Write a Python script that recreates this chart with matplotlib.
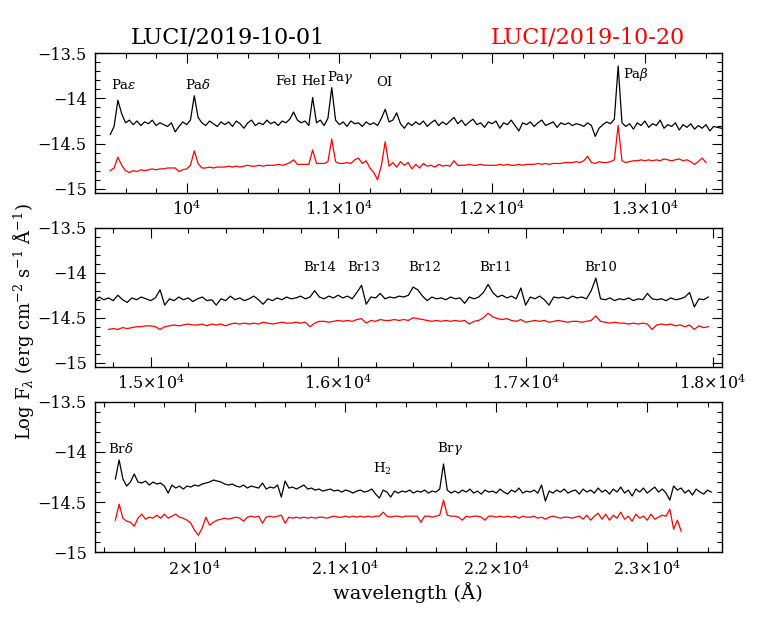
import matplotlib
matplotlib.use("Agg")
import matplotlib.pyplot as plt
import numpy as np
from matplotlib.ticker import MultipleLocator, FixedLocator, FuncFormatter

plt.rcParams["font.family"] = ["DejaVu Serif"]
plt.rcParams["mathtext.fontset"] = "dejavuserif"

# --------------------------------------------------------------------------- #
# data (log flux, 25 A grid)                               #
# --------------------------------------------------------------------------- #

wl_j_black = np.arange(9500, 13501, 25)
flux_j_black = [
    -14.40, -14.31, -14.02, -14.17, -14.27, -14.24, -14.29, -14.25, -14.30, -14.26,
    -14.28, -14.24, -14.30, -14.27, -14.29, -14.31, -14.27, -14.37, -14.31, -14.26,
    -14.29, -14.24, -13.97, -14.21, -14.27, -14.30, -14.25, -14.28, -14.31, -14.26,
    -14.29, -14.26, -14.31, -14.25, -14.28, -14.33, -14.27, -14.24, -14.30, -14.27,
    -14.29, -14.24, -14.28, -14.26, -14.30, -14.25, -14.27, -14.23, -14.15, -14.24,
    -14.27, -14.25, -14.30, -13.99, -14.27, -14.24, -14.30, -14.22, -13.88, -14.24,
    -14.29, -14.26, -14.31, -14.25, -14.28, -14.27, -14.31, -14.26, -14.29, -14.27,
    -14.30, -14.22, -14.12, -14.26, -14.24, -14.16, -14.28, -14.33, -14.27, -14.30,
    -14.26, -14.29, -14.25, -14.31, -14.27, -14.24, -14.30, -14.26, -14.29, -14.25,
    -14.21, -14.28, -14.24, -14.30, -14.26, -14.23, -14.29, -14.27, -14.32, -14.26,
    -14.28, -14.25, -14.33, -14.27, -14.29, -14.24, -14.30, -14.36, -14.27, -14.29,
    -14.26, -14.31, -14.27, -14.24, -14.30, -14.28, -14.26, -14.32, -14.27, -14.29,
    -14.27, -14.30, -14.28, -14.29, -14.31, -14.27, -14.30, -14.42, -14.33, -14.29,
    -14.26, -14.28, -14.23, -13.64, -14.27, -14.31, -14.28, -14.34, -14.27, -14.30,
    -14.25, -14.32, -14.28, -14.30, -14.24, -14.33, -14.29, -14.31, -14.27, -14.35,
    -14.29, -14.32, -14.28, -14.34, -14.30, -14.33, -14.29, -14.36, -14.31, -14.32,
    -14.33,
]

wl_j_red = np.arange(9500, 13401, 25)
flux_j_red = [
    -14.80, -14.77, -14.65, -14.74, -14.80, -14.82, -14.80, -14.81, -14.79, -14.80,
    -14.79, -14.78, -14.79, -14.78, -14.78, -14.77, -14.77, -14.77, -14.81, -14.79,
    -14.78, -14.74, -14.58, -14.72, -14.77, -14.77, -14.76, -14.77, -14.76, -14.76,
    -14.76, -14.75, -14.76, -14.75, -14.76, -14.75, -14.74, -14.75, -14.75, -14.74,
    -14.75, -14.74, -14.74, -14.74, -14.73, -14.74, -14.73, -14.71, -14.68, -14.73,
    -14.73, -14.73, -14.73, -14.57, -14.72, -14.72, -14.72, -14.70, -14.45, -14.70,
    -14.72, -14.72, -14.71, -14.72, -14.68, -14.66, -14.72, -14.69, -14.77, -14.82,
    -14.90, -14.74, -14.48, -14.75, -14.71, -14.76, -14.70, -14.74, -14.71, -14.78,
    -14.73, -14.77, -14.72, -14.75, -14.74, -14.76, -14.73, -14.75, -14.74, -14.75,
    -14.69, -14.74, -14.74, -14.74, -14.73, -14.74, -14.74, -14.73, -14.74, -14.74,
    -14.74, -14.74, -14.73, -14.74, -14.73, -14.74, -14.74, -14.73, -14.74, -14.73,
    -14.73, -14.73, -14.72, -14.73, -14.72, -14.73, -14.72, -14.72, -14.72, -14.71,
    -14.71, -14.71, -14.70, -14.71, -14.69, -14.64, -14.71, -14.72, -14.70, -14.71,
    -14.71, -14.70, -14.68, -14.30, -14.69, -14.71, -14.70, -14.69, -14.69, -14.68,
    -14.69, -14.68, -14.69, -14.68, -14.69, -14.67, -14.68, -14.69, -14.68, -14.67,
    -14.69, -14.68, -14.70, -14.73, -14.70, -14.66, -14.71,
]

wl_h_black = np.arange(14700, 17976, 25)
flux_h_black = [
    -14.32, -14.27, -14.30, -14.28, -14.31, -14.25, -14.30, -14.33, -14.28, -14.30,
    -14.27, -14.29, -14.31, -14.28, -14.19, -14.36, -14.29, -14.31, -14.27, -14.30,
    -14.28, -14.32, -14.29, -14.27, -14.31, -14.30, -14.36, -14.29, -14.31, -14.26,
    -14.30, -14.28, -14.31, -14.29, -14.26, -14.30, -14.35, -14.29, -14.31, -14.28,
    -14.30, -14.27, -14.29, -14.28, -14.26, -14.29, -14.27, -14.20, -14.27, -14.29,
    -14.26, -14.28, -14.25, -14.28, -14.26, -14.29, -14.22, -14.14, -14.35, -14.27,
    -14.28, -14.23, -14.29, -14.27, -14.28, -14.26, -14.27, -14.25, -14.16, -14.19,
    -14.26, -14.31, -14.27, -14.29, -14.28, -14.30, -14.27, -14.29, -14.28, -14.34,
    -14.27, -14.29, -14.27, -14.22, -14.13, -14.22, -14.27, -14.25, -14.28, -14.26,
    -14.29, -14.17, -14.36, -14.27, -14.29, -14.26, -14.30, -14.36, -14.27, -14.28,
    -14.27, -14.29, -14.26, -14.28, -14.27, -14.29, -14.20, -14.06, -14.29, -14.30,
    -14.28, -14.31, -14.29, -14.30, -14.28, -14.31, -14.29, -14.30, -14.23, -14.29,
    -14.30, -14.29, -14.31, -14.28, -14.30, -14.29, -14.27, -14.22, -14.38, -14.29,
    -14.30, -14.27,
]

wl_h_red = np.arange(14775, 17976, 25)
flux_h_red = [
    -14.63, -14.62, -14.63, -14.61, -14.62, -14.61, -14.60, -14.60, -14.59, -14.59,
    -14.60, -14.63, -14.60, -14.59, -14.58, -14.59, -14.58, -14.57, -14.58, -14.58,
    -14.57, -14.59, -14.57, -14.58, -14.57, -14.59, -14.57, -14.56, -14.57, -14.56,
    -14.57, -14.56, -14.57, -14.55, -14.56, -14.57, -14.56, -14.55, -14.56, -14.56,
    -14.55, -14.56, -14.55, -14.60, -14.56, -14.54, -14.54, -14.55, -14.54, -14.53,
    -14.54, -14.53, -14.54, -14.52, -14.51, -14.56, -14.53, -14.54, -14.52, -14.53,
    -14.53, -14.52, -14.53, -14.52, -14.53, -14.50, -14.51, -14.52, -14.53, -14.54,
    -14.53, -14.54, -14.53, -14.54, -14.53, -14.54, -14.53, -14.57, -14.54, -14.53,
    -14.50, -14.45, -14.49, -14.51, -14.52, -14.51, -14.53, -14.54, -14.52, -14.55,
    -14.54, -14.53, -14.54, -14.53, -14.55, -14.54, -14.53, -14.54, -14.55, -14.54,
    -14.54, -14.55, -14.54, -14.53, -14.48, -14.54, -14.55, -14.56, -14.55, -14.56,
    -14.56, -14.57, -14.56, -14.57, -14.56, -14.57, -14.63, -14.58, -14.57, -14.58,
    -14.57, -14.59, -14.58, -14.60, -14.58, -14.63, -14.59, -14.61, -14.60,
]

wl_k_black = np.arange(19475, 23426, 25)
flux_k_black = [
    -14.27, -14.08, -14.27, -14.34, -14.30, -14.22, -14.30, -14.31, -14.29, -14.33,
    -14.30, -14.32, -14.31, -14.34, -14.41, -14.33, -14.36, -14.34, -14.37, -14.34,
    -14.35, -14.33, -14.34, -14.32, -14.31, -14.30, -14.28, -14.29, -14.30, -14.32,
    -14.33, -14.32, -14.34, -14.35, -14.33, -14.36, -14.34, -14.35, -14.36, -14.31,
    -14.37, -14.35, -14.36, -14.33, -14.45, -14.29, -14.36, -14.35, -14.37, -14.35,
    -14.33, -14.37, -14.36, -14.38, -14.37, -14.39, -14.38, -14.37, -14.39, -14.38,
    -14.40, -14.38, -14.39, -14.41, -14.39, -14.38, -14.40, -14.39, -14.37, -14.42,
    -14.46, -14.38, -14.40, -14.45, -14.39, -14.41, -14.39, -14.40, -14.38, -14.41,
    -14.39, -14.40, -14.38, -14.41, -14.39, -14.40, -14.37, -14.12, -14.38, -14.41,
    -14.39, -14.41, -14.38, -14.40, -14.37, -14.41, -14.39, -14.42, -14.38, -14.40,
    -14.39, -14.41, -14.37, -14.40, -14.42, -14.38, -14.40, -14.36, -14.41, -14.39,
    -14.40, -14.38, -14.41, -14.33, -14.49, -14.39, -14.41, -14.38, -14.40, -14.37,
    -14.41, -14.39, -14.38, -14.42, -14.37, -14.40, -14.38, -14.41, -14.36, -14.40,
    -14.38, -14.42, -14.37, -14.40, -14.35, -14.41, -14.38, -14.44, -14.37, -14.40,
    -14.36, -14.41, -14.38, -14.35, -14.40, -14.37, -14.41, -14.48, -14.34, -14.38,
    -14.36, -14.41, -14.38, -14.43, -14.37, -14.40, -14.42, -14.38, -14.40,
]

wl_k_red = np.arange(19475, 23226, 25)
flux_k_red = [
    -14.68, -14.52, -14.66, -14.69, -14.70, -14.74, -14.66, -14.62, -14.67, -14.65,
    -14.66, -14.63, -14.66, -14.62, -14.66, -14.64, -14.62, -14.65, -14.66, -14.68,
    -14.71, -14.78, -14.83, -14.76, -14.65, -14.73, -14.70, -14.68, -14.67, -14.66,
    -14.67, -14.66, -14.65, -14.66, -14.69, -14.65, -14.64, -14.65, -14.64, -14.71,
    -14.65, -14.64, -14.65, -14.64, -14.63, -14.71, -14.65, -14.66, -14.65, -14.66,
    -14.65, -14.66, -14.65, -14.66, -14.65, -14.65, -14.66, -14.65, -14.64, -14.65,
    -14.65, -14.64, -14.65, -14.64, -14.65, -14.64, -14.65, -14.64, -14.65, -14.64,
    -14.64, -14.60, -14.64, -14.65, -14.64, -14.64, -14.65, -14.64, -14.64, -14.64,
    -14.64, -14.70, -14.64, -14.64, -14.65, -14.64, -14.63, -14.48, -14.63, -14.64,
    -14.64, -14.65, -14.68, -14.64, -14.65, -14.64, -14.64, -14.65, -14.68, -14.64,
    -14.64, -14.65, -14.64, -14.65, -14.64, -14.65, -14.64, -14.66, -14.64, -14.65,
    -14.65, -14.64, -14.66, -14.65, -14.67, -14.65, -14.64, -14.65, -14.66, -14.65,
    -14.65, -14.66, -14.65, -14.64, -14.67, -14.63, -14.68, -14.64, -14.61, -14.67,
    -14.62, -14.68, -14.63, -14.66, -14.60, -14.67, -14.64, -14.69, -14.62, -14.66,
    -14.64, -14.68, -14.62, -14.67, -14.65, -14.63, -14.64, -14.57, -14.77, -14.68,
    -14.79,
]

# line labels: (text, wavelength, log flux) per band
lines_j = [(r"Pa$\epsilon$", 9590, -13.85), (r"Pa$\delta$", 10074, -13.85),
           ("FeI", 10650, -13.81), ("HeI", 10830, -13.81),
           (r"Pa$\gamma$", 11005, -13.77), ("OI", 11296, -13.82),
           (r"Pa$\beta$", 12943, -13.74)]
lines_h = [("Br14", 15903, -13.94), ("Br13", 16138, -13.94), ("Br12", 16463, -13.94),
           ("Br11", 16842, -13.94), ("Br10", 17402, -13.94)]
lines_k = [(r"Br$\delta$", 19510, -13.97), (r"H$_2$", 21244, -14.17),
           (r"Br$\gamma$", 21694, -13.97)]

xticks_j = [10000, 11000, 12000, 13000]
xlabels_j = [r"10$^4$", r"1.1×10$^4$", r"1.2×10$^4$", r"1.3×10$^4$"]
xticks_h = [15000, 16000, 17000, 18000]
xlabels_h = [r"1.5×10$^4$", r"1.6×10$^4$", r"1.7×10$^4$", r"1.8×10$^4$"]
xticks_k = [20000, 21000, 22000, 23000]
xlabels_k = [r"2×10$^4$", r"2.1×10$^4$", r"2.2×10$^4$", r"2.3×10$^4$"]


# --------------------------------------------------------------------------- #
# plotting                                                                     #
# --------------------------------------------------------------------------- #

def style_panel(ax, xlim, ylim, xticks, xlabels):
    ax.set_xlim(*xlim)
    ax.set_ylim(*ylim)
    ax.xaxis.set_major_locator(FixedLocator(xticks))
    ax.set_xticklabels(xlabels)
    ax.xaxis.set_minor_locator(MultipleLocator(200))
    ax.yaxis.set_major_locator(MultipleLocator(0.5))
    ax.yaxis.set_minor_locator(MultipleLocator(0.1))
    ax.yaxis.set_major_formatter(FuncFormatter(lambda v, p: f"{v:g}".replace("-", "\u2212")))
    ax.tick_params(which="both", direction="in", top=True, right=True, labelsize=11.5)
    ax.tick_params(which="major", length=7, width=0.8)
    ax.tick_params(which="minor", length=3.5, width=0.8)
    ax.tick_params(axis="x", pad=5)
    ax.tick_params(axis="y", pad=6)
    for s in ax.spines.values():
        s.set_linewidth(1.0)


def draw_panel(ax, wb, fb, wr, fr, labels):
    ax.plot(wb, fb, color="black", lw=0.9)
    ax.plot(wr, fr, color="red", lw=0.9)
    for txt, x, y in labels:
        ax.text(x, y, txt, fontsize=9.5, ha="center", va="center")


fig = plt.figure(figsize=(7.63, 6.30), dpi=100)
ax1 = fig.add_axes([0.1245, 0.6941, 0.8218, 0.2213])
ax2 = fig.add_axes([0.1245, 0.4179, 0.8218, 0.2207])
ax3 = fig.add_axes([0.1245, 0.1233, 0.8218, 0.2391])

draw_panel(ax1, wl_j_black, flux_j_black, wl_j_red, flux_j_red, lines_j)
style_panel(ax1, (9400, 13505), (-15.044, -13.5), xticks_j, xlabels_j)

draw_panel(ax2, wl_h_black, flux_h_black, wl_h_red, flux_h_red, lines_h)
style_panel(ax2, (14703, 18048), (-15.044, -13.5), xticks_h, xlabels_h)

draw_panel(ax3, wl_k_black, flux_k_black, wl_k_red, flux_k_red, lines_k)
style_panel(ax3, (19340, 23496), (-15.0, -13.5), xticks_k, xlabels_k)

fig.text(0.299, 0.94, "LUCI/2019-10-01", color="black", fontsize=16, ha="center", va="center")
fig.text(0.771, 0.94, "LUCI/2019-10-20", color="red", fontsize=16, ha="center", va="center")
fig.text(0.535, 0.059, "wavelength (Å)", fontsize=14, ha="center", va="center")
fig.text(0.031, 0.489, r"Log F$_\lambda$ (erg cm$^{-2}$ s$^{-1}$ Å$^{-1}$)",
         fontsize=13, ha="center", va="center", rotation=90)

fig.savefig("out.png", dpi=100)
